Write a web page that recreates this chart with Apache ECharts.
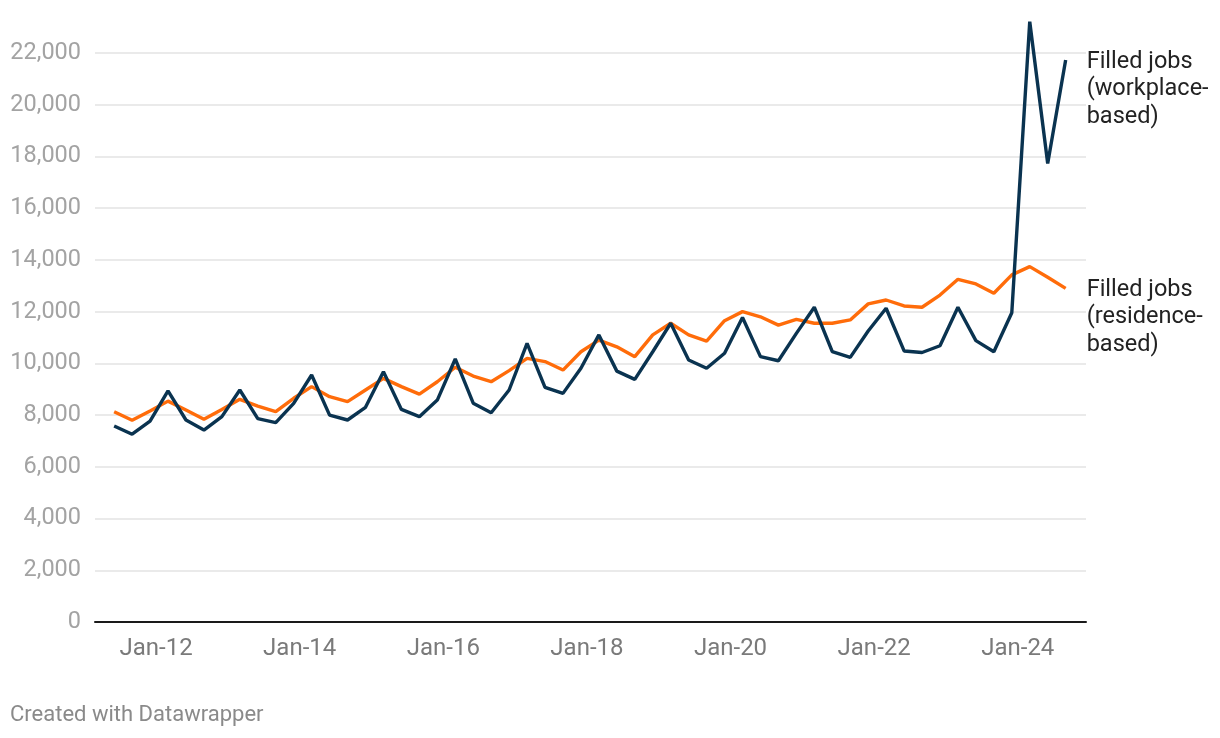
<!DOCTYPE html>
<html>
<head>
<meta charset="utf-8">
<script src="https://cdn.jsdelivr.net/npm/echarts@6/dist/echarts.min.js"></script>
<style>
html,body{margin:0;padding:0;background:#fff;}
#chart{width:1220px;height:738px;}
</style>
</head>
<body>
<div id="chart"></div>
<script>
// Quarterly periods (year-month)
const periods = [
  '2011-06','2011-09','2011-12','2012-03','2012-06','2012-09','2012-12',
  '2013-03','2013-06','2013-09','2013-12','2014-03','2014-06','2014-09','2014-12',
  '2015-03','2015-06','2015-09','2015-12','2016-03','2016-06','2016-09','2016-12',
  '2017-03','2017-06','2017-09','2017-12','2018-03','2018-06','2018-09','2018-12',
  '2019-03','2019-06','2019-09','2019-12','2020-03','2020-06','2020-09','2020-12',
  '2021-03','2021-06','2021-09','2021-12','2022-03','2022-06','2022-09','2022-12',
  '2023-03','2023-06','2023-09','2023-12','2024-03','2024-06','2024-09'
];
const workplaceJobs = [
  7580,7260,7770,8940,7810,7420,7940,
  8970,7860,7710,8450,9550,8000,7810,8300,
  9680,8220,7940,8580,10170,8460,8090,8970,
  10770,9070,8840,9810,11100,9700,9380,10450,
  11550,10130,9810,10390,11770,10260,10100,11160,
  12170,10450,10230,11250,12130,10480,10420,10680,
  12170,10880,10450,11960,23210,17730,21730
];
const residenceJobs = [
  8130,7800,8160,8540,8200,7840,8220,
  8610,8350,8130,8650,9100,8710,8520,8970,
  9420,9100,8810,9290,9850,9510,9290,9720,
  10190,10070,9740,10450,10900,10640,10260,11100,
  11550,11100,10860,11650,12000,11800,11480,11700,
  11550,11550,11680,12300,12450,12220,12170,12640,
  13250,13070,12710,13420,13740,13330,12900
];
const xTickLabels = ['Jan-12','Jan-14','Jan-16','Jan-18','Jan-20','Jan-22','Jan-24'];
const xTickYears = [2012,2014,2016,2018,2020,2022,2024];
const seriesNames = ['Filled jobs\n(workplace-\nbased)', 'Filled jobs\n(residence-\nbased)'];

function toYear(p){ const [y,m] = p.split('-').map(Number); return y + (m-1)/12; }
const wData = periods.map((p,i)=>[toYear(p), workplaceJobs[i]]);
const rData = periods.map((p,i)=>[toYear(p), residenceJobs[i]]);

const FONT = 'Roboto, "Noto Sans", sans-serif';
const chart = echarts.init(document.getElementById('chart'));
chart.setOption({
  animation:false,
  backgroundColor:'#ffffff',
  grid:{left:95,right:134,top:53,bottom:116,containLabel:false},
  xAxis:{
    type:'value', min:2011.15, max:2024.95,
    axisLine:{show:true,lineStyle:{color:'#1a1a1a',width:2}},
    axisTick:{show:false},
    splitLine:{show:false},
    axisLabel:{
      customValues: xTickYears,
      formatter:(v)=>{ const i = xTickYears.indexOf(Math.round(v)); return i>=0 ? xTickLabels[i] : ''; },
      color:'#7a7a7a', fontSize:24, fontFamily:FONT, margin:15
    }
  },
  yAxis:{
    type:'value', min:0, max:22000, interval:2000,
    axisLine:{show:false}, axisTick:{show:false},
    splitLine:{show:true,lineStyle:{color:'#e3e3e3',width:1.5}},
    axisLabel:{
      formatter:(v)=>v.toLocaleString('en-US'),
      color:'#a3a3a3', fontSize:23.5, fontFamily:FONT, margin:14,
      padding:[3,0,0,0]
    }
  },
  series:[
    {
      name:'residence', type:'line', data:rData, showSymbol:false, clip:false,
      lineStyle:{color:'#ff6c0a',width:3.4}, z:2,
      endLabel:{show:true, formatter:seriesNames[1], color:'#222', fontSize:23.5, lineHeight:27.5,
        fontFamily:FONT, distance:21, align:'left', verticalAlign:'top', offset:[0,-12]}
    },
    {
      name:'workplace', type:'line', data:wData, showSymbol:false, clip:false,
      lineStyle:{color:'#0a3350',width:3.4}, z:3,
      endLabel:{show:true, formatter:seriesNames[0], color:'#222', fontSize:23.5, lineHeight:27.5,
        fontFamily:FONT, distance:21, align:'left', verticalAlign:'top', offset:[0,-12]}
    }
  ],
  graphic:[{
    type:'text', left:10, top:704,
    style:{text:'Created with Datawrapper', fill:'#8a8a8a', font:'22px ' + FONT}
  }]
});
</script>
</body>
</html>
